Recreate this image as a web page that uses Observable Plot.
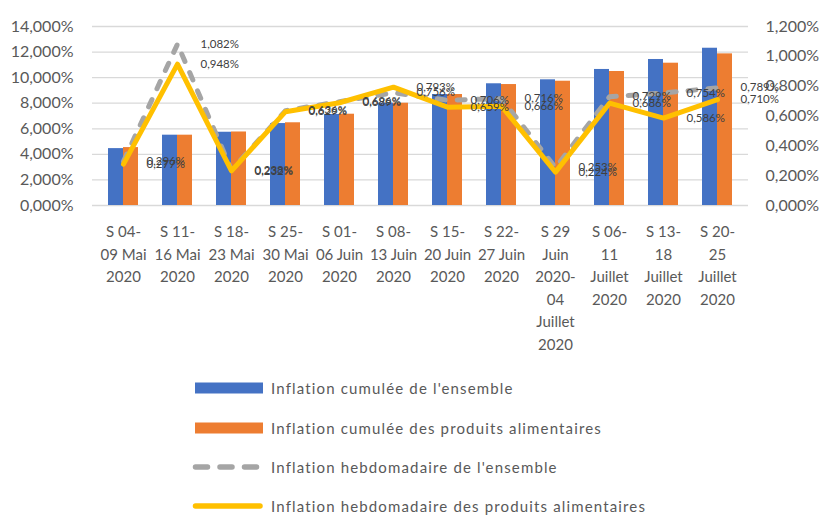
<!DOCTYPE html>
<html>
<head>
<meta charset="utf-8">
<script src="https://cdn.jsdelivr.net/npm/d3@7"></script>
<script src="https://cdn.jsdelivr.net/npm/@observablehq/plot@0.6"></script>
<style>
  body { margin: 0; background: #fff; font-family: Lato, "Open Sans", sans-serif; }
  #wrap { position: relative; width: 824px; height: 517px; }
  .leg { position: absolute; left: 192px; height: 20px; display: flex; align-items: center; color: #595959; font-size: 15px; letter-spacing: 1.15px; white-space: nowrap; }
  .leg svg { margin-right: 7px; }
</style>
</head>
<body>
<div id="wrap"></div>
<script>
const categories = [
  "S 04-\n09 Mai\n2020",
  "S 11-\n16 Mai\n2020",
  "S 18-\n23 Mai\n2020",
  "S 25-\n30 Mai\n2020",
  "S 01-\n06 Juin\n2020",
  "S 08-\n13 Juin\n2020",
  "S 15-\n20 Juin\n2020",
  "S 22-\n27 Juin\n2020",
  "S 29\nJuin\n2020-\n04\nJuillet\n2020",
  "S 06-\n11\nJuillet\n2020",
  "S 13-\n18\nJuillet\n2020",
  "S 20-\n25\nJuillet\n2020"
];
const cumEnsemble = [4.45, 5.50, 5.73, 6.41, 7.12, 8.00, 8.68, 9.52, 9.83, 10.64, 11.42, 12.30];
const cumAlim     = [4.53, 5.50, 5.75, 6.47, 7.14, 8.00, 8.68, 9.46, 9.72, 10.48, 11.13, 11.86];
const hebdoEnsemble = [0.296, 1.082, 0.238, 0.636, 0.696, 0.756, 0.706, 0.716, 0.253, 0.729, 0.754, 0.789];
const hebdoAlim     = [0.277, 0.948, 0.232, 0.629, 0.689, 0.793, 0.659, 0.666, 0.224, 0.686, 0.586, 0.710];
const leftTicks = [0, 2, 4, 6, 8, 10, 12, 14];
const rightTicks = [0, 0.2, 0.4, 0.6, 0.8, 1.0, 1.2];
const seriesNames = [
  "Inflation cumulée de l'ensemble",
  "Inflation cumulée des produits alimentaires",
  "Inflation hebdomadaire de l'ensemble",
  "Inflation hebdomadaire des produits alimentaires"
];
const colors = ["#4472c4", "#ed7d31", "#a5a5a5", "#ffc000"];

const k = 14 / 1.2;
const fmt = v => (Math.round(v * 1000) / 1000).toFixed(3).replace(".", ",") + "%";

const rows = (arr) => categories.map((c, i) => ({cat: c, v: arr[i]}));
const bE = rows(cumEnsemble), bA = rows(cumAlim), hE = rows(hebdoEnsemble), hA = rows(hebdoAlim);

const chart = Plot.plot({
  width: 824,
  height: 365,
  marginTop: 26,
  marginBottom: 160,
  marginLeft: 92,
  marginRight: 76,
  style: {fontFamily: "Lato, 'Open Sans', sans-serif", fontSize: "15px", color: "#595959", background: "#fff"},
  x: {domain: categories, paddingInner: 0.45, paddingOuter: 0.225, label: null},
  y: {domain: [0, 14], label: null},
  marks: [
    Plot.gridY({ticks: leftTicks, stroke: "#d9d9d9", strokeOpacity: 1, strokeWidth: 1.3}),
    Plot.axisY({ticks: leftTicks, tickFormat: fmt, tickSize: 0, tickPadding: 19, fontSize: 16}),
    Plot.axisY({anchor: "right", ticks: rightTicks.map(v => v * k), tickFormat: d => fmt(d / k), tickSize: 0, tickPadding: 17, fontSize: 16}),
    Plot.axisX({tickSize: 0, tickPadding: 16, tickFormat: d => d, fontSize: 15, lineHeight: 1.5}),
    Plot.barY(bE, {x: "cat", y: "v", fill: colors[0], insetRight: 15}),
    Plot.barY(bA, {x: "cat", y: "v", fill: colors[1], insetLeft: 15}),
    Plot.lineY(hE, {x: "cat", y: d => d.v * k, stroke: colors[2], strokeWidth: 5, strokeDasharray: "8,12", strokeLinecap: "round"}),
    Plot.lineY(hA, {x: "cat", y: d => d.v * k, stroke: colors[3], strokeWidth: 5}),
    Plot.text(hE, {x: "cat", y: d => d.v * k, text: d => fmt(d.v), dx: 23, textAnchor: "start", fill: "#404040", fontSize: 11.5}),
    Plot.text(hA, {x: "cat", y: d => d.v * k, text: d => fmt(d.v), dx: 23, textAnchor: "start", fill: "#404040", fontSize: 11.5})
  ]
});
const wrap = document.getElementById("wrap");
wrap.appendChild(chart);

const legTops = [388, 428, 467, 506];
seriesNames.forEach((name, i) => {
  const div = document.createElement("div");
  div.className = "leg";
  div.style.top = (legTops[i] - 10) + "px";
  let sw;
  if (i < 2) sw = `<svg width="72" height="20"><rect x="3" y="4.5" width="68" height="11" fill="${colors[i]}"/></svg>`;
  else if (i === 2) sw = `<svg width="72" height="20"><line x1="3.5" x2="68" y1="10" y2="10" stroke="${colors[i]}" stroke-width="5.5" stroke-linecap="round" stroke-dasharray="12,12.5"/></svg>`;
  else sw = `<svg width="72" height="20"><line x1="3.5" x2="68" y1="10" y2="10" stroke="${colors[i]}" stroke-width="5.5" stroke-linecap="round"/></svg>`;
  div.innerHTML = sw + `<span>${name}</span>`;
  wrap.appendChild(div);
});
</script>
</body>
</html>
